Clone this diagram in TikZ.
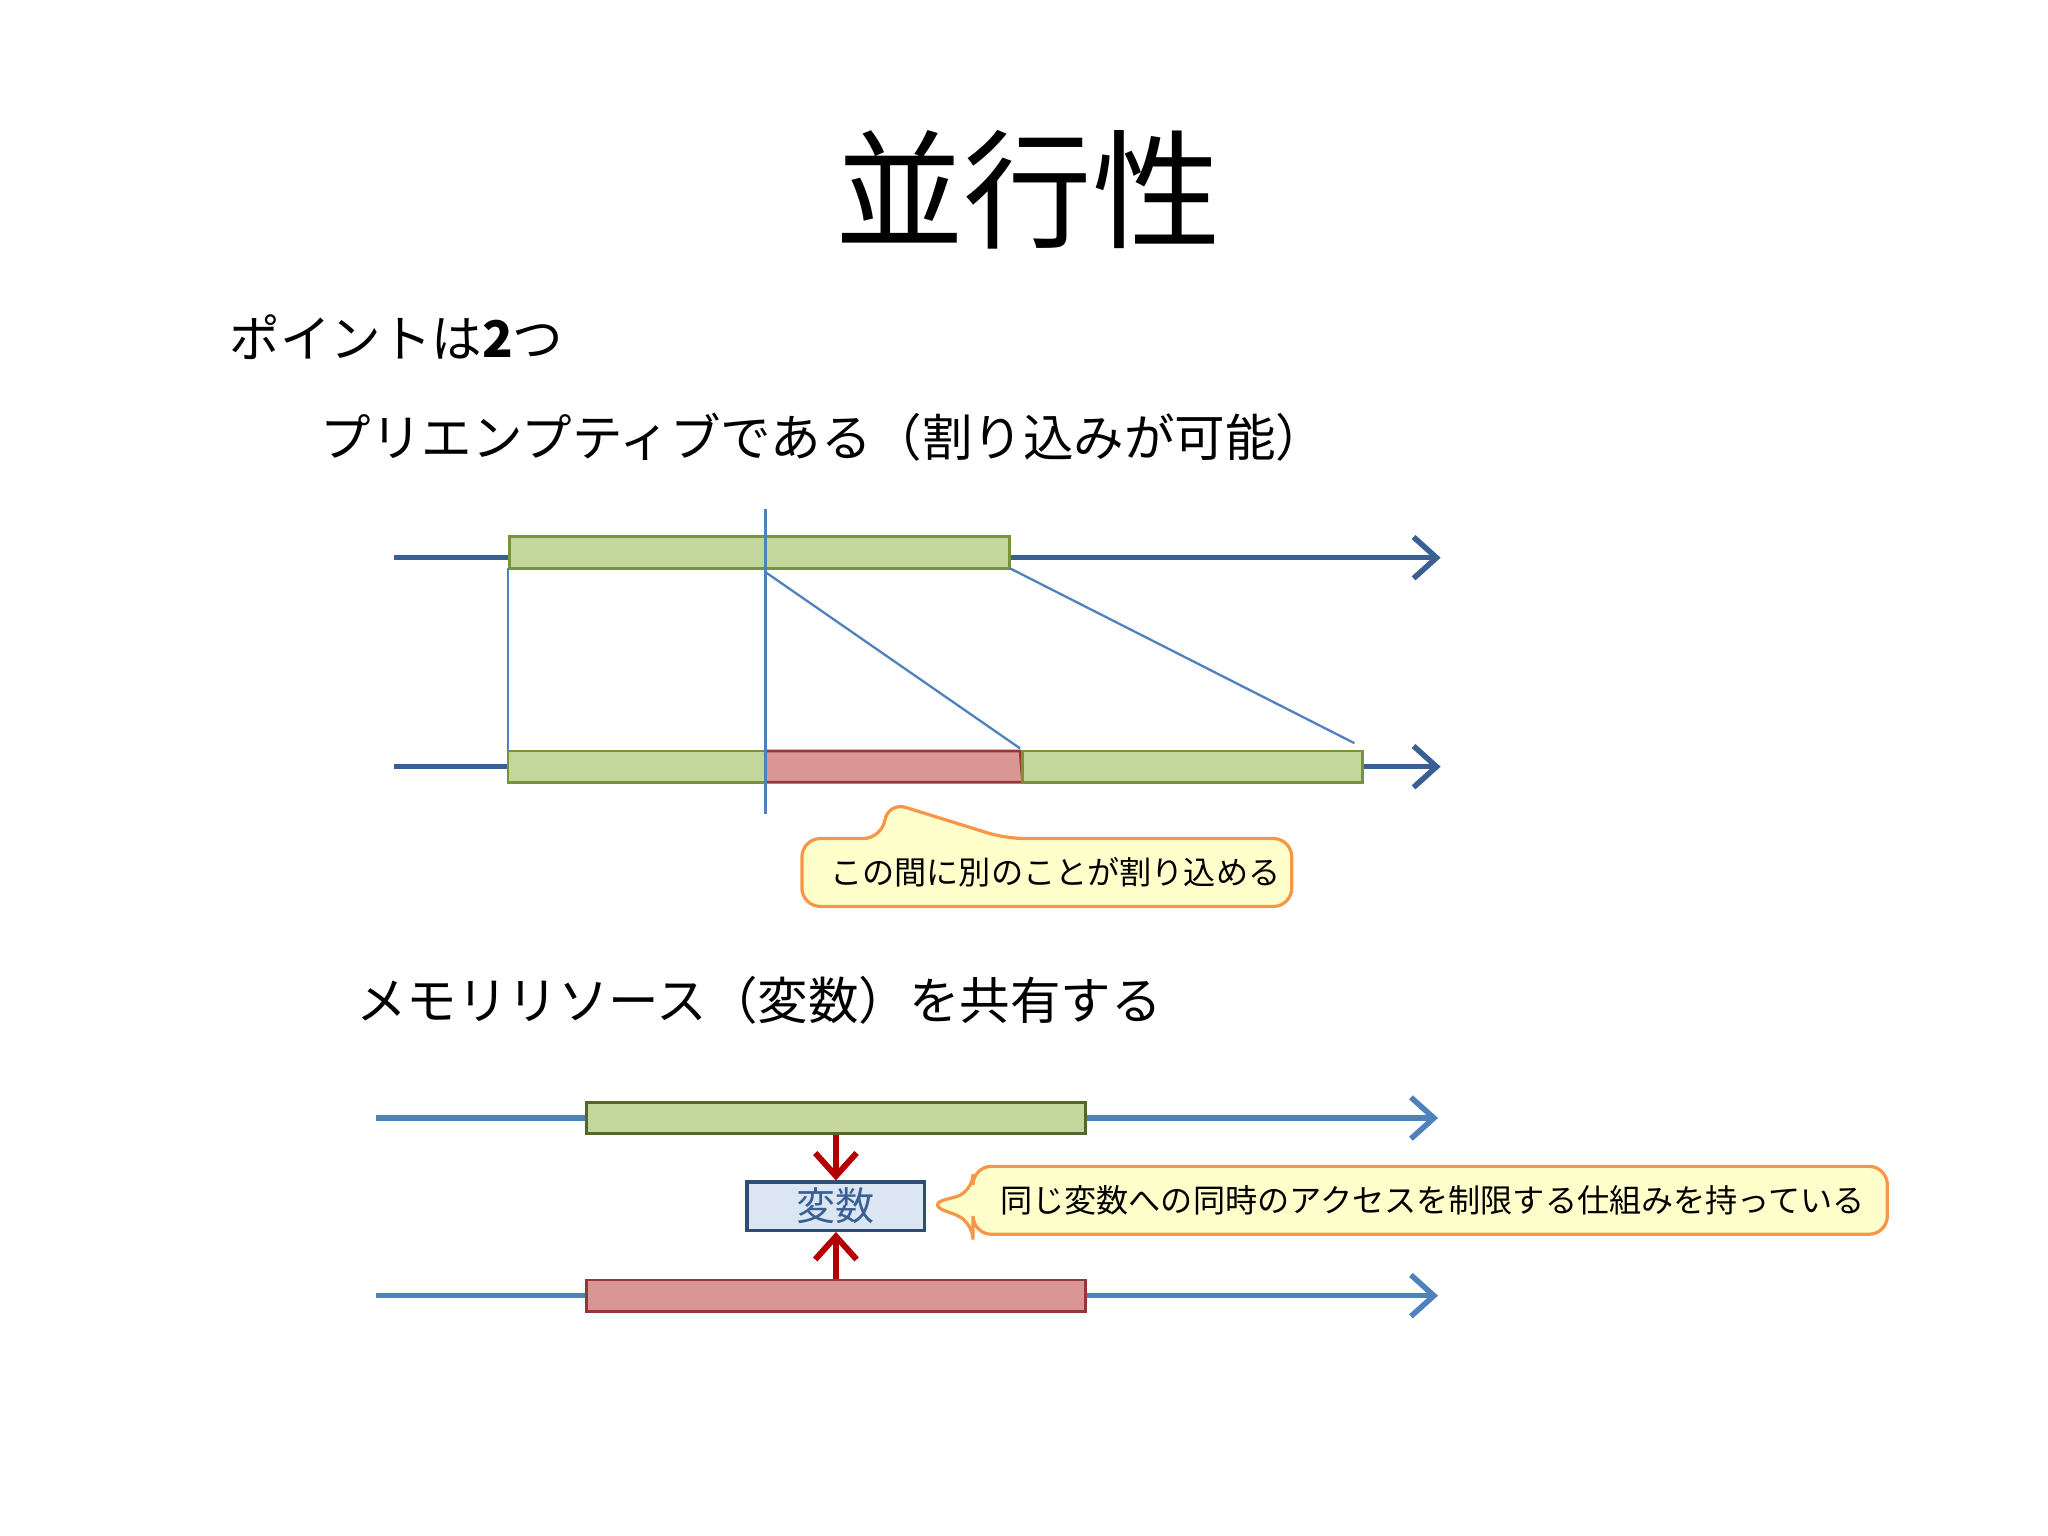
\documentclass[tikz,border=0pt]{standalone}
\usepackage{fontspec}
\setmainfont{Noto Sans CJK JP}
\usetikzlibrary{arrows.meta}
\definecolor{tl1}{HTML}{3A6093}
\definecolor{tl2}{HTML}{4F81BD}
\definecolor{gfill}{HTML}{C3D69B}
\definecolor{gdraw}{HTML}{77933C}
\definecolor{rfill}{HTML}{D99694}
\definecolor{rdraw}{HTML}{953735}
\definecolor{cfill}{HTML}{FFFFCC}
\definecolor{cdraw}{HTML}{F79646}
\definecolor{vfill}{HTML}{DCE6F2}
\tikzset{
 tline/.style={line width=1.2pt,-{Straight Barb[length=5pt,width=9pt]}},
 gbar/.style={fill=gfill,draw=gdraw,line width=0.6pt},
 rbar/.style={fill=rfill,draw=rdraw,line width=0.6pt},
 thinline/.style={draw=tl2,line width=0.5pt},
 callout/.style={fill=cfill,draw=cdraw,line width=0.7pt,rounded corners=4pt},
 txt/.style={anchor=west,inner sep=0pt},
}
\begin{document}
\begin{tikzpicture}[x=0.01cm,y=-0.01cm]
\useasboundingbox (0,0) rectangle (1568,1176);
\node (title) at (787,145) {\fontsize{28}{30}\selectfont 並行性};
\node[txt] (p1) at (175,258) {\fontsize{11}{13}\selectfont ポイントは\textbf{2}つ};
\node[txt] (p2) at (245,335) {\fontsize{11}{13}\selectfont プリエンプティブである（割り込みが可能）};
% timeline 1,2
\coordinate (a1) at (302,427); \coordinate (b1) at (1103,427);
\coordinate (a2) at (302,587); \coordinate (b2) at (1103,587);
\draw[tline,tl1] (a1) -- (b1);
\draw[tline,tl1] (a2) -- (b2);
\draw[gbar] (390,411) rectangle (773,435);
\draw[gbar] (389,575) rectangle (586,599);
\draw[rbar] (586,575) -- (781,575) -- (783,599) -- (586,599) -- cycle;
\draw[gbar] (783,575) rectangle (1043,599);
\draw[thinline] (389,435) -- (389,575);
\draw[thinline] (586,390) -- (586,623);
\draw[thinline] (586,438) -- (781,573);
\draw[thinline] (773,435) -- (1037,569);
\draw[callout] (614,642) -- (675,642) -- (680,614) -- (770,642) -- (989,642) -- (989,694) -- (614,694) -- cycle;
\node[txt] (c1) at (635,668) {\fontsize{7}{8}\selectfont この間に別のことが割り込める};
% memory
\node[txt] (p3) at (272,766) {\fontsize{11}{13}\selectfont メモリリソース（変数）を共有する};
\coordinate (a3) at (288,856); \coordinate (b3) at (1101,856);
\coordinate (a4) at (288,992); \coordinate (b4) at (1101,992);
\draw[tline,tl2] (a3) -- (b3);
\draw[tline,tl2] (a4) -- (b4);
\node[gbar,draw=gdraw!70!black,minimum width=3.82cm,minimum height=0.24cm,inner sep=0] (g3) at (640,856) {};
\node[rbar,minimum width=3.82cm,minimum height=0.24cm,inner sep=0] (r4) at (640,992) {};
\node[fill=vfill,draw=tl1!80!black,line width=0.7pt,minimum width=1.36cm,minimum height=0.37cm,inner sep=0] (var) at (640,923.5) {\fontsize{8.5}{9}\selectfont\color{tl1}変数};
\draw[-{Straight Barb[length=5pt,width=9pt]},line width=1.3pt,color=red!70!black] (g3.south) -- (var.north);
\draw[-{Straight Barb[length=5pt,width=9pt]},line width=1.3pt,color=red!70!black] (r4.north) -- (var.south);
\draw[callout] (745,893) -- (1445,893) -- (1445,945) -- (745,945) -- (745,935) -- (710,922) -- (745,913) -- cycle;
\node[txt] (c2) at (765,919) {\fontsize{7}{8}\selectfont 同じ変数への同時のアクセスを制限する仕組みを持っている};
\end{tikzpicture}
\end{document}
